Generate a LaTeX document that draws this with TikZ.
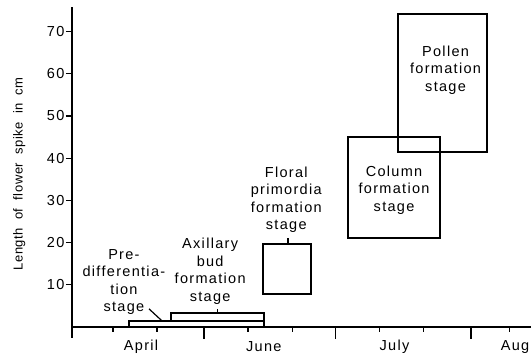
\documentclass[tikz,border=0pt]{standalone}
\usepackage{fontspec}
\setmainfont{Liberation Sans}[LetterSpace=9]
\newfontfamily\axisfont{Liberation Sans}[LetterSpace=4]

\begin{document}
\begin{tikzpicture}[x=44pt,y=4.22pt,
                    every node/.style={font=\fontsize{14.5}{17.5}\selectfont,align=center,inner sep=1pt},
                    stagebox/.style={line width=1.5pt}]
    \useasboundingbox (-72pt,-29pt) rectangle (459pt,327pt);
    % axes
    \draw[line width=1.6pt] (0,-2.6)--(0,75.8);
    \draw[line width=1.6pt] (0,0)--(10.43,0);
    \foreach \y in {10,20,...,70}
      \draw[line width=1.2pt] (-0.14,\y)--(0,\y) node[left=6pt] {\y};
    \foreach \x in {0.93,1.93,4,5.02,6.98,7.98,9.95}
      \draw[line width=1.2pt] (\x,0)--(\x,-1.3);
    \foreach \x in {3,5.98,9.07}
      \draw[line width=1.2pt] (\x,0)--(\x,-2.9);
    \node[rotate=90,font=\axisfont\fontsize{13}{16}\selectfont] (ylab) at (-1.2,36.3)
      {Length\ \ of\ \ flower\ \ spike\ \ in\ \ cm};
    \node (april) at (1.57,-4.74) {April};
    \node (june) at (4.36,-4.74) {June};
    \node (july) at (7.33,-4.74) {July};
    \node (aug) at (10.07,-4.74) {Aug};
    % stages
    \draw[stagebox] (1.30,0) rectangle (4.36,1.4);
    \draw[stagebox] (2.25,1.4) rectangle (4.36,3.3);
    \draw[stagebox] (4.34,7.8) rectangle (5.43,19.7);
    \draw[stagebox] (6.27,21.1) rectangle (8.36,45);
    \draw[line width=2pt] (7.41,41.5) rectangle (9.43,74.2);
    \coordinate (prept) at (2.05,1.4);
    \coordinate (axpt) at (3.30,3.3);
    \coordinate (flpt) at (4.91,19.7);
    \node (pre) at (1.18,10.7) {Pre-\\differentia-\\tion\\stage};
    \node (axil) at (3.14,13.2) {Axillary\\bud\\formation\\stage};
    \node (floral) at (4.87,30.1) {Floral\\primordia\\formation\\stage};
    \node (column) at (7.32,32.5) {Column\\formation\\stage};
    \node (pollen) at (8.49,60.9) {Pollen\\formation\\stage};
    \draw[line width=1.2pt] (1.75,4.3)--(prept);
    \draw[line width=1.2pt] (axpt)--++(0,1);
    \draw[line width=1.2pt] (flpt)--++(0,1.4);
  \end{tikzpicture}
\end{document}
